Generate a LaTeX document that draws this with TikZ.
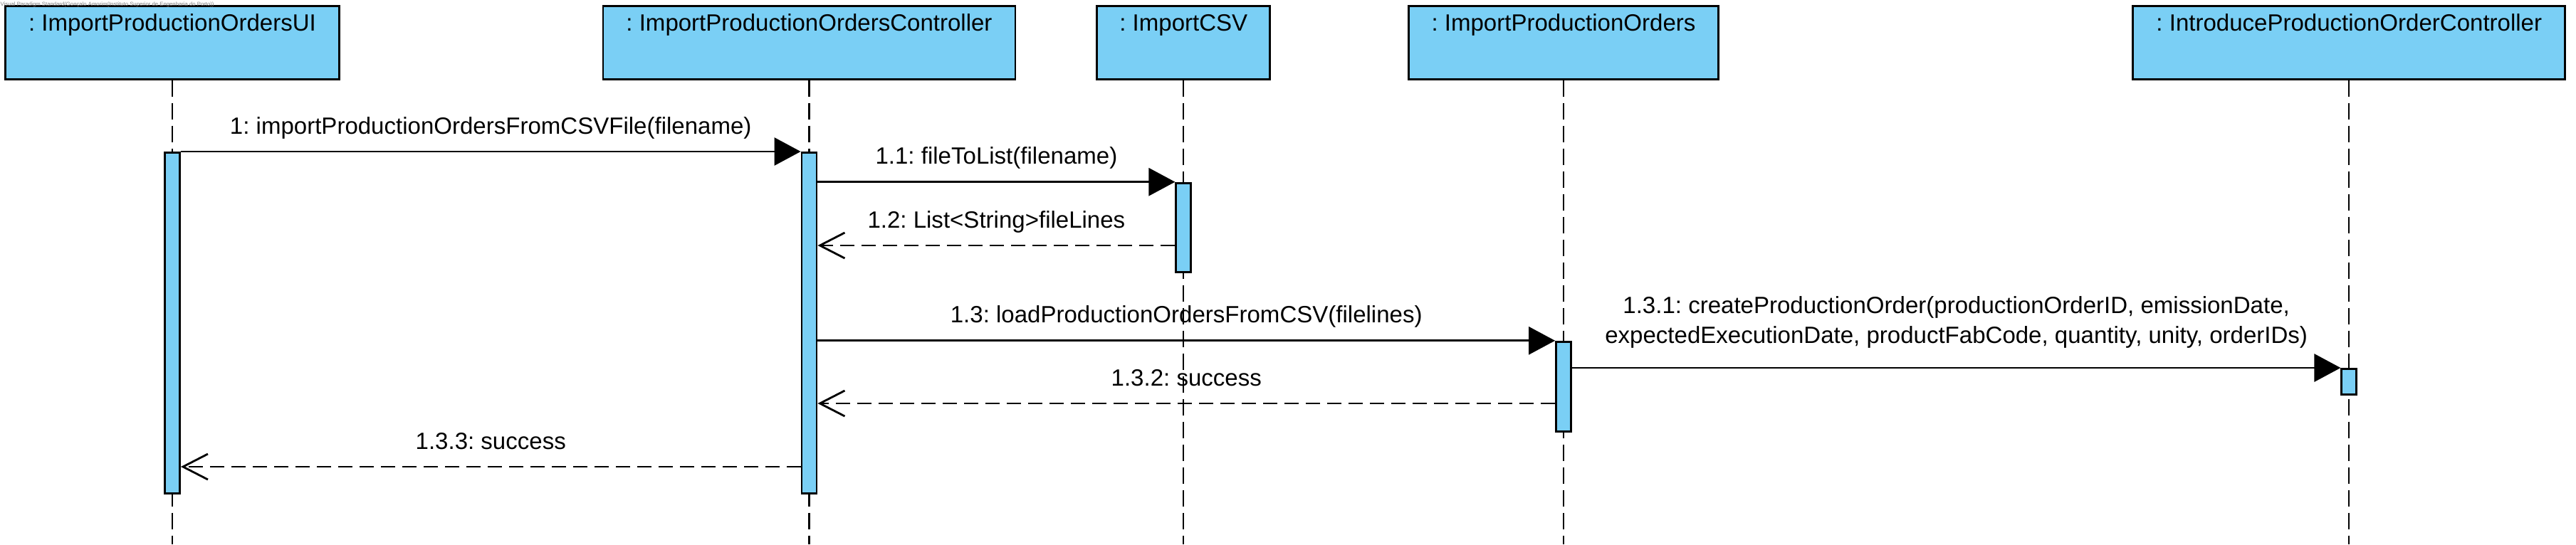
\documentclass[tikz,border=0pt]{standalone}
\usepackage{fontspec}
\setmainfont{Liberation Sans}
\usetikzlibrary{arrows.meta}
\definecolor{lifeblue}{RGB}{122,207,245}
\frenchspacing

\begin{document}
\begin{tikzpicture}[font=\fontsize{9.4}{11.7}\selectfont,
        object/.style={draw, fill=lifeblue, line width=0.8pt, inner sep=0pt, text height=0.35cm, text depth=0.674cm, anchor=north},
        act/.style={draw, fill=lifeblue, line width=0.8pt, minimum width=0.21cm, inner sep=0pt, anchor=north},
        lifeline/.style={line width=0.6pt, dash pattern=on 0.23cm off 0.09cm},
        call/.style={line width=0.8pt, -{Triangle[length=0.37cm, width=0.39cm]}},
        reply/.style={line width=0.8pt, dash pattern=on 0.2cm off 0.1cm, -{Straight Barb[length=0.35cm, width=0.36cm]}},
        msg/.style={anchor=base, inner sep=0pt, yshift=0.25cm}]
    \useasboundingbox (0,0) rectangle (36.18,-7.65);
    \node[object, minimum width=4.69cm] (ui) at (2.42,-0.073) {: ImportProductionOrdersUI};
    \node[object, minimum width=5.79cm] (ctrl) at (11.365,-0.073) {: ImportProductionOrdersController};
    \node[object, minimum width=2.43cm] (csv) at (16.623,-0.073) {: ImportCSV};
    \node[object, minimum width=4.35cm] (imp) at (21.96,-0.073) {: ImportProductionOrders};
    \node[object, minimum width=6.07cm] (intro) at (32.993,-0.073) {: IntroduceProductionOrderController};
    \coordinate (bottom) at (0,-7.65);
    \foreach \obj in {ui,ctrl,csv,imp,intro}
        \draw[lifeline] (\obj.south) -- (\obj.south |- bottom);
    \node[act, minimum height=4.79cm] (a1) at (ui.south |- 0,-2.13) {};
    \node[act, minimum height=4.79cm] (a2) at (ctrl.south |- 0,-2.13) {};
    \node[act, minimum height=1.25cm] (a3) at (csv.south |- 0,-2.557) {};
    \node[act, minimum height=1.26cm] (a4) at (imp.south |- 0,-4.788) {};
    \node[act, minimum height=0.36cm] (a5) at (intro.south |- 0,-5.17) {};
    \draw[call] (a1.north east) -- node[msg]{1: importProductionOrdersFromCSVFile(filename)} (a2.north west);
    \draw[call] (a2.east |- a3.north) -- node[msg]{1.1: fileToList(filename)} (a3.north west);
    \draw[reply] (a3.west |- 0,-3.45) -- node[msg]{1.2: List<String>fileLines} (a2.east |- 0,-3.45);
    \draw[call] (a2.east |- a4.north) -- node[msg]{1.3: loadProductionOrdersFromCSV(filelines)} (a4.north west);
    \draw[call] (a4.east |- a5.north) -- node[msg, align=center, yshift=0.1cm]{1.3.1: createProductionOrder(productionOrderID, emissionDate,\\expectedExecutionDate, productFabCode, quantity, unity, orderIDs)} (a5.north west);
    \draw[reply] (a4.west |- 0,-5.67) -- node[msg]{1.3.2: success} (a2.east |- 0,-5.67);
    \draw[reply] (a2.west |- 0,-6.56) -- node[msg]{1.3.3: success} (a1.east |- 0,-6.56);
    \node[anchor=north west, inner sep=0pt, text=gray, font=\fontsize{2.2}{2.6}\selectfont] (stamp) at (0,-0.02) {Visual Paradigm Standard(Gonçalo Amorim(Instituto Superior de Engenharia do Porto))};
\end{tikzpicture}
\end{document}
